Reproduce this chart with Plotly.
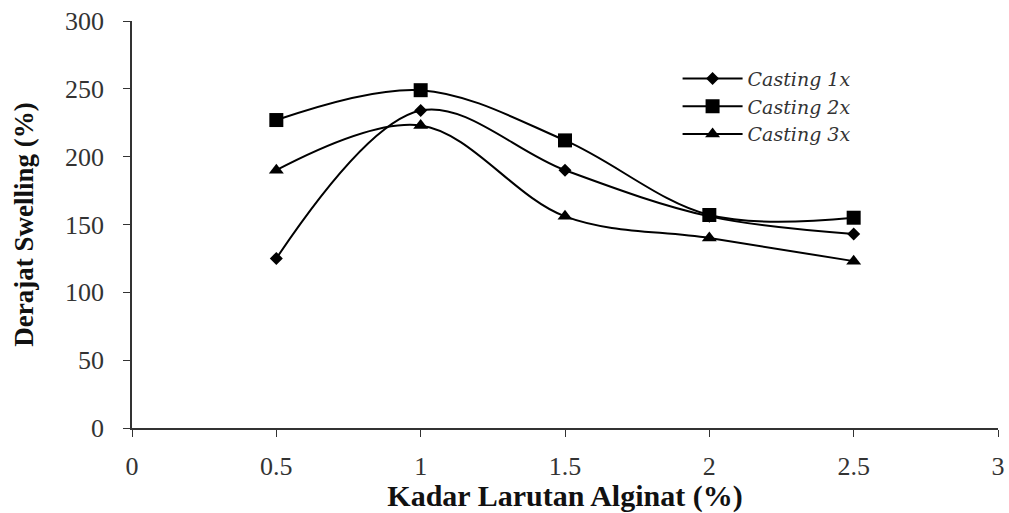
import plotly.graph_objects as go

x_vals = [0.5, 1, 1.5, 2, 2.5]
casting_1x = [125, 234, 190, 156, 143]
casting_2x = [227, 249, 212, 157, 155]
casting_3x = [190, 223, 156, 140, 123]
series_names = ["Casting 1x", "Casting 2x", "Casting 3x"]
x_ticks = [0, 0.5, 1, 1.5, 2, 2.5, 3]
x_tick_labels = ["0", "0.5", "1", "1.5", "2", "2.5", "3"]
y_ticks = [0, 50, 100, 150, 200, 250, 300]

fig = go.Figure()
symbols = ["diamond", "square", "triangle-up"]
sizes = [10, 14, 13]
for name, vals, sym, sz in zip(series_names, [casting_1x, casting_2x, casting_3x], symbols, sizes):
    fig.add_trace(go.Scatter(
        x=x_vals, y=vals, name=name, mode="lines+markers",
        line=dict(color="black", width=2, shape="spline", smoothing=1.0),
        marker=dict(symbol=sym, size=sz, color="black"),
    ))

fig.update_layout(
    width=1009, height=513,
    margin=dict(l=132, r=11, t=21, b=85),
    plot_bgcolor="white", paper_bgcolor="white",
    font=dict(family="Liberation Serif", color="#222222", size=26),
    legend=dict(x=0.63, y=0.905, xanchor="left", yanchor="top",
                font=dict(family="DejaVu Serif", size=19, style="italic", color="#333333"),
                bgcolor="rgba(0,0,0,0)", tracegroupgap=0, itemwidth=60),
    xaxis=dict(range=[0, 3], tickvals=x_ticks, ticktext=x_tick_labels,
               showline=True, linecolor="#333333", linewidth=1.5,
               ticks="outside", ticklen=7, tickcolor="#333333",
               showgrid=False, zeroline=False, ticklabelstandoff=7,
               automargin=False, ticklabeloverflow="allow",
               tickfont=dict(size=26, color="#333333"),
               title=dict(text="<b>Kadar Larutan Alginat (%)</b>", font=dict(size=30, color="#111111"), standoff=2)),
    yaxis=dict(range=[0, 300], tickvals=y_ticks,
               showline=True, linecolor="#333333", linewidth=1.5,
               ticks="outside", ticklen=7, tickcolor="#333333",
               showgrid=False, zeroline=False, ticklabelstandoff=14,
               automargin=False, ticklabeloverflow="allow",
               tickfont=dict(size=26, color="#333333"),
               title=dict(text="<b>Derajat Swelling (%)</b>", font=dict(size=27, color="#111111"), standoff=24)),
)

fig.write_html("out.html")
